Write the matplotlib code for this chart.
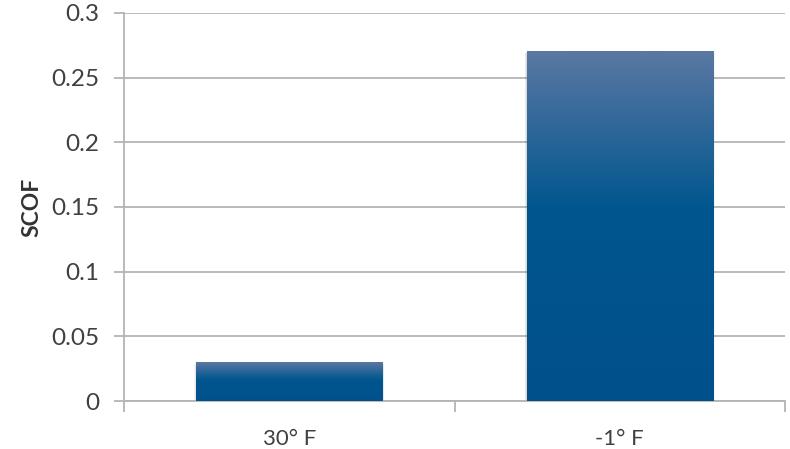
import numpy as np
import matplotlib.pyplot as plt
from matplotlib.colors import LinearSegmentedColormap

categories = ["30° F", "-1° F"]
scof = [0.03, 0.27]
yticks = [0, 0.05, 0.1, 0.15, 0.2, 0.25, 0.3]
ytick_labels = ["0", "0.05", "0.1", "0.15", "0.2", "0.25", "0.3"]

plt.rcParams['font.family'] = ['Lato', 'DejaVu Sans']

fig = plt.figure(figsize=(7.9, 4.49), dpi=100)
ax = fig.add_axes([124 / 790, 1 - 401 / 449, 661 / 790, 388 / 449])

# gradient: lighter steel blue at top, deep blue from middle down
cmap = LinearSegmentedColormap.from_list(
    "bar", [(0.0, "#00508c"), (0.55, "#00568f"), (1.0, "#5a78a2")])
grad = np.linspace(0, 1, 256).reshape(-1, 1)

width = 0.563
for i, v in enumerate(scof):
    x0 = i - width / 2
    # soft shadow
    for k, a in enumerate([0.06, 0.05, 0.04]):
        off = 0.004 * (k + 1)
        ax.add_patch(plt.Rectangle((x0 - off * 0.5, -0.0012 * (k + 1)), width + off,
                                   v + 0.0008 * (k + 1), color="black", alpha=a,
                                   lw=0, zorder=2))
    ax.imshow(grad, cmap=cmap, origin="lower", aspect="auto",
              extent=(x0, x0 + width, 0, v), zorder=3)

ax.set_xlim(-0.5, 1.5)
ax.set_ylim(0, 0.3)
ax.set_yticks(yticks)
ax.set_yticklabels(ytick_labels)
ax.set_xticks(range(len(categories)))
ax.set_xticklabels(categories)
ax.set_xticks([-0.5, 0.5, 1.5], minor=True)

ax.yaxis.grid(True, color="#b4b4b4", lw=1.3)
ax.set_axisbelow(True)
for s in ["top", "right"]:
    ax.spines[s].set_visible(False)
for s in ["left", "bottom"]:
    ax.spines[s].set_color("#b4b4b4")
    ax.spines[s].set_linewidth(1.3)
ax.tick_params(axis="y", which="major", length=7, width=1.3, color="#b4b4b4",
               labelsize=17.5, labelcolor="#404040", pad=11)
ax.tick_params(axis="x", which="major", length=0, labelsize=16,
               labelcolor="#404040", pad=20)
ax.tick_params(axis="x", which="minor", length=8, width=1.3, color="#b4b4b4")

ax.set_ylabel("SCOF", fontsize=16.5, fontweight="bold", color="#333333", labelpad=6)

fig.savefig("out.png", dpi=100)
